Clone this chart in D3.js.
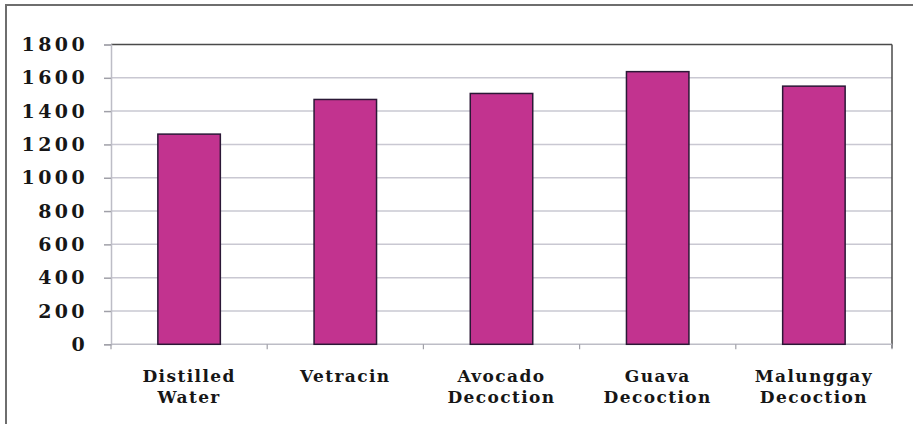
<!DOCTYPE html>
<html><head><meta charset="utf-8">
<script src="https://cdn.jsdelivr.net/npm/d3@7"></script>
<style>body{margin:0;background:#fff}svg{display:block}</style>
</head><body>
<script>
const categories = [["Distilled","Water"],["Vetracin"],["Avocado","Decoction"],["Guava","Decoction"],["Malunggay","Decoction"]];
const values = [1262, 1470, 1506, 1637, 1550];
const yTicks = [0,200,400,600,800,1000,1200,1400,1600,1800];

const W=913,H=424;
const m={left:111,right:21,top:44.5,bottom:80};
const svg=d3.select("body").append("svg").attr("width",W).attr("height",H);
svg.append("rect").attr("x",6).attr("y",5).attr("width",930).attr("height",440)
  .attr("fill","none").attr("stroke","#6e6e6e").attr("stroke-width",2);

const x=d3.scaleBand().domain(d3.range(categories.length)).range([m.left,W-m.right]).paddingInner(0.6).paddingOuter(0.3);
const y=d3.scaleLinear().domain([0,1800]).range([344.3,m.top]);

// gridlines
svg.append("g").selectAll("line").data(yTicks.slice(1)).join("line")
  .attr("x1",m.left).attr("x2",W-m.right).attr("y1",d=>y(d)).attr("y2",d=>y(d))
  .attr("stroke",d=>d===1800?"#4a4a4a":"#c9c8d2").attr("stroke-width",1.5);
// right border
svg.append("line").attr("x1",W-m.right).attr("x2",W-m.right).attr("y1",m.top).attr("y2",y(0)+4)
  .attr("stroke","#4a4a4a").attr("stroke-width",1.5);

// y axis
const ya=svg.append("g").attr("transform",`translate(${m.left},0)`)
  .call(d3.axisLeft(y).tickValues(yTicks).tickFormat(d3.format("d")).tickSize(7).tickPadding(16));
ya.select(".domain").attr("stroke","#bdbdc6").attr("stroke-width",1.5);
ya.selectAll(".tick line").attr("stroke","#a0a0a8").attr("stroke-width",1.5);
ya.selectAll("text").attr("font-family","'DejaVu Serif'").attr("font-weight","bold")
  .attr("font-size",19).attr("letter-spacing","3.4px").attr("fill","#161616");

// x axis
const band=(W-m.right-m.left)/categories.length;
const xa=svg.append("g").attr("transform",`translate(0,${y(0)})`);
xa.append("line").attr("x1",m.left).attr("x2",W-m.right).attr("stroke","#bdbdc6").attr("stroke-width",1.5);
xa.selectAll(".xt").data(d3.range(categories.length+1)).join("line")
  .attr("x1",i=>m.left+i*band).attr("x2",i=>m.left+i*band).attr("y1",0).attr("y2",5)
  .attr("stroke","#a0a0a8").attr("stroke-width",1.2);

// bars
svg.append("g").selectAll("rect").data(values).join("rect")
  .attr("x",(d,i)=>x(i)).attr("width",x.bandwidth())
  .attr("y",d=>y(d)).attr("height",d=>y(0)-y(d))
  .attr("fill","#c2338f").attr("stroke","#2b1836").attr("stroke-width",1.5);

// category labels
const lab=svg.append("g").selectAll("text").data(categories).join("text")
  .attr("x",(d,i)=>x(i)+x.bandwidth()/2).attr("y",382).attr("text-anchor","middle")
  .attr("font-family","'DejaVu Serif'").attr("font-weight","bold").attr("font-size",17)
  .attr("letter-spacing","1.4px").attr("fill","#161616");
lab.selectAll("tspan").data(d=>d).join("tspan")
  .attr("x",function(){return this.parentNode.getAttribute("x");})
  .attr("dy",(d,i)=>i===0?0:21).text(d=>d);
</script>
</body></html>
